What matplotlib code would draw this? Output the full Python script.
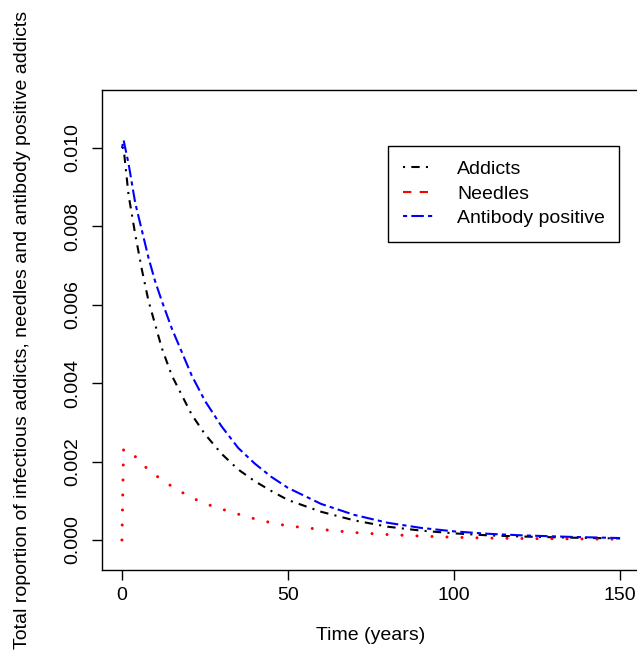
import matplotlib
matplotlib.use("Agg")
import matplotlib.pyplot as plt
from matplotlib.lines import Line2D

plt.rcParams['font.family'] = ['Liberation Sans', 'DejaVu Sans']

# values
t = [0, 0.5, 2, 4, 6, 8, 10, 12, 15, 18, 21, 25, 30, 35, 40, 45, 50,
     60, 70, 80, 90, 100, 110, 120, 135, 150]
addicts = [0.0100, 0.0100, 0.0088, 0.0078, 0.0069, 0.0061, 0.0055, 0.0049,
           0.0042, 0.0037, 0.0032, 0.0027, 0.0022, 0.0018, 0.0015, 0.00125,
           0.00102, 0.00072, 0.00050, 0.00034, 0.00024, 0.00017, 0.00012,
           0.00009, 0.00006, 0.00004]
needles = [0.0, 0.00232, 0.00225, 0.00213, 0.00195, 0.00179, 0.00166,
           0.00154, 0.00137, 0.00122, 0.00108, 0.00093, 0.00079, 0.00066,
           0.00054, 0.00044, 0.00036, 0.00027, 0.00019, 0.00014, 0.00010,
           0.00007, 0.00005, 0.00004, 0.00003, 0.00002]
antibody = [0.0100, 0.0102, 0.0096, 0.0086, 0.0079, 0.0072, 0.0066, 0.0061,
            0.0054, 0.0048, 0.0042, 0.00355, 0.0029, 0.00235, 0.00195,
            0.00161, 0.00133, 0.00092, 0.00064, 0.00044, 0.00031, 0.00022,
            0.00016, 0.00012, 0.00008, 0.00005]

xticks = [0, 50, 100, 150]
yticks = [0.000, 0.002, 0.004, 0.006, 0.008, 0.010]

fs = 14

fig = plt.figure(figsize=(6.37, 6.56), dpi=100)
ax = fig.add_axes([102/637, 86/656, 538/637, 480/656])

lw = 1.5
s_add = dict(color='black', lw=lw, linestyle=(0, (1, 3, 4, 3)))
s_ndl = dict(color='red', lw=2.2, linestyle=(0, (0.01, 4.9)),
             dash_capstyle='round')
s_ab = dict(color='blue', lw=lw, linestyle=(0, (2, 2, 6, 2)))

ax.plot(t, addicts, **s_add)
ax.plot(t, needles, **s_ndl)
ax.plot(t, antibody, **s_ab)

ax.set_xlim(-6, 156)
ax.set_ylim(-0.000765, 0.01148)
ax.set_xticks(xticks)
ax.set_xticklabels([str(v) for v in xticks])
ax.set_yticks(yticks)
ax.set_yticklabels(['%.3f' % v for v in yticks], rotation=90, va='center')
ax.tick_params(direction='out', length=7, width=1, labelsize=fs)
ax.tick_params(axis='y', pad=8)
ax.tick_params(axis='x', pad=5)
for sp in ax.spines.values():
    sp.set_linewidth(1)

ax.set_xlabel('Time (years)', fontsize=fs, labelpad=17)
ax.set_ylabel('Total roportion of infectious addicts, needles and antibody positive addicts',
              fontsize=fs, labelpad=24)

handles = [Line2D([], [], **s_add),
           Line2D([], [], color='red', lw=lw, linestyle=(0, (4, 4))),
           Line2D([], [], **s_ab)]
leg = ax.legend(handles, ['Addicts', 'Needles', 'Antibody positive'],
                loc='upper left', bbox_to_anchor=(388/637, 1 - 146/656),
                bbox_transform=fig.transFigure, fontsize=fs,
                fancybox=False, edgecolor='black', framealpha=1,
                handlelength=1.6, handletextpad=1.2, borderpad=0.75,
                labelspacing=0.35, borderaxespad=0)
leg.get_frame().set_linewidth(1)

fig.savefig('out.png', dpi=100)
